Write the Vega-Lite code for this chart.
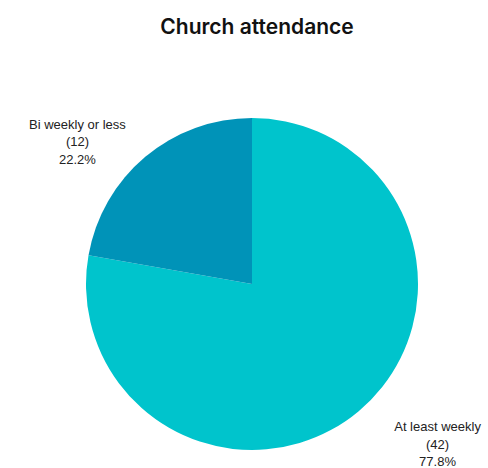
{
  "$schema": "https://vega.github.io/schema/vega-lite/v6.json",
  "width": 472,
  "height": 368,
  "autosize": "none",
  "padding": {"left": 16, "top": 100, "right": 0, "bottom": 0},
  "background": "white",
  "title": {
    "text": "Church attendance",
    "font": "Inter",
    "fontSize": 21,
    "fontWeight": 600,
    "color": "#111111",
    "anchor": "middle",
    "baseline": "alphabetic",
    "offset": 45,
    "dx": 5
  },
  "data": {
    "values": [
      {"category": "At least weekly", "count": 42, "label": "At least weekly\n(42)\n77.8%"},
      {"category": "Bi weekly or less", "count": 12, "label": "Bi weekly or less\n(12)\n22.2%"}
    ]
  },
  "encoding": {
    "theta": {"field": "count", "type": "quantitative", "stack": true},
    "order": {"field": "category", "type": "nominal", "sort": "ascending"}
  },
  "layer": [
    {
      "mark": {"type": "arc", "outerRadius": 166},
      "encoding": {
        "color": {
          "field": "category",
          "type": "nominal",
          "scale": {"domain": ["At least weekly", "Bi weekly or less"], "range": ["#00C4CC", "#0093B8"]},
          "legend": null
        }
      }
    },
    {
      "mark": {"type": "text", "radius": 200, "dx": -46, "dy": -6, "font": "Liberation Sans", "fontSize": 13, "lineHeight": 17.5, "color": "#222222", "align": "center", "baseline": "middle", "lineBreak": "\n"},
      "encoding": {"text": {"condition": {"test": "datum.category === 'Bi weekly or less'", "field": "label"}, "value": ""}}
    },
    {
      "mark": {"type": "text", "radius": 200, "dx": 57, "dy": -10, "font": "Liberation Sans", "fontSize": 13, "lineHeight": 17.5, "color": "#222222", "align": "center", "baseline": "middle", "lineBreak": "\n"},
      "encoding": {"text": {"condition": {"test": "datum.category === 'At least weekly'", "field": "label"}, "value": ""}}
    }
  ]
}
